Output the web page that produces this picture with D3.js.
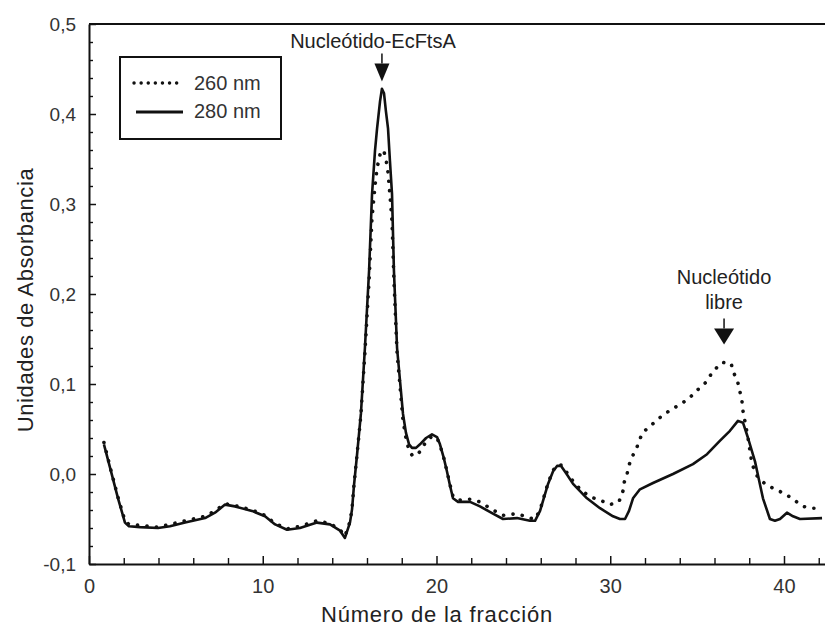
<!DOCTYPE html>
<html>
<head>
<meta charset="utf-8">
<script src="https://cdn.jsdelivr.net/npm/d3@7"></script>
<style>
  html, body { margin: 0; padding: 0; background: #fff; }
  svg { display: block; }
  text { font-family: "Liberation Sans", Arial, Helvetica, sans-serif; }
</style>
</head>
<body>
<svg id="chart" width="825" height="630"></svg>
<script>
// Elution profile: fraction number vs. absorbance at two wavelengths
const seriesNames = ["260 nm", "280 nm"];

const fraction280 = [0.86, 1.21, 1.67, 2.07, 2.30, 2.94, 3.97, 4.66, 5.53, 6.68, 7.25, 7.83, 8.40, 9.38,
  10.13, 10.71, 11.40, 12.14, 13.12, 13.87, 14.45, 14.73, 15.02, 15.14, 15.25, 15.42, 15.65, 15.88,
  16.12, 16.29, 16.46, 16.58, 16.75, 16.86, 16.98, 17.09, 17.21, 17.32, 17.44, 17.55, 17.73, 18.07,
  18.24, 18.42, 18.59, 18.82, 19.05, 19.40, 19.74, 20.03, 20.20, 20.43, 20.60, 20.78, 20.95, 21.24,
  21.93, 22.50, 23.25, 23.83, 24.63, 25.38, 25.67, 25.96, 26.42, 26.71, 26.94, 27.17, 27.45, 27.86,
  28.66, 29.41, 30.16, 30.56, 30.85, 31.08, 31.31, 31.71, 32.46, 33.61, 34.76, 35.57, 36.32, 36.89,
  37.35, 37.64, 37.93, 38.33, 38.79, 39.19, 39.48, 39.77, 40.17, 40.52, 40.92, 42.19];
const abs280 = [0.033, 0.007, -0.027, -0.054, -0.058, -0.059, -0.060, -0.058, -0.054, -0.049, -0.043, -0.034, -0.036, -0.041,
  -0.047, -0.056, -0.062, -0.060, -0.054, -0.056, -0.063, -0.071, -0.054, -0.039, -0.013, 0.020, 0.067, 0.140,
  0.226, 0.311, 0.359, 0.384, 0.414, 0.428, 0.423, 0.403, 0.384, 0.348, 0.311, 0.226, 0.140, 0.067,
  0.046, 0.033, 0.029, 0.029, 0.033, 0.040, 0.044, 0.041, 0.033, 0.017, 0.003, -0.013, -0.027, -0.031,
  -0.031, -0.036, -0.044, -0.050, -0.049, -0.052, -0.052, -0.041, -0.011, 0.003, 0.009, 0.009, 0.001, -0.011,
  -0.027, -0.038, -0.047, -0.050, -0.050, -0.041, -0.027, -0.017, -0.010, 0.000, 0.011, 0.022, 0.037, 0.048,
  0.059, 0.057, 0.040, 0.014, -0.027, -0.050, -0.052, -0.050, -0.043, -0.047, -0.050, -0.049];

const fraction260 = [0.86, 1.21, 1.67, 2.07, 2.30, 2.94, 3.97, 4.66, 5.53, 6.68, 7.25, 7.83, 8.40, 9.38,
  10.13, 10.71, 11.40, 12.14, 13.12, 13.87, 14.45, 14.73, 15.02, 15.14, 15.25, 15.42, 15.65, 15.88,
  16.12, 16.29, 16.46, 16.58, 16.75, 16.86, 16.98, 17.09, 17.21, 17.32, 17.44, 17.55, 17.73, 18.07,
  18.24, 18.42, 18.59, 18.82, 19.05, 19.40, 19.74, 20.03, 20.20, 20.43, 20.60, 20.78, 20.95, 21.24,
  21.93, 22.50, 23.25, 23.83, 24.63, 25.38, 25.67, 25.96, 26.42, 26.71, 26.94, 27.17, 27.45, 27.86,
  28.37, 28.95, 29.52, 29.98, 30.50, 30.73, 30.79, 30.97, 31.08, 31.31, 31.54, 31.85, 32.23, 32.81,
  33.38, 33.90, 34.48, 35.00, 35.51, 35.91, 36.43, 36.95, 37.12, 37.35, 37.47, 37.58, 37.64, 37.93,
  38.16, 38.45, 38.91, 39.48, 40.06, 40.52, 41.09, 41.61, 42.07];
const abs260 = [0.035, 0.008, -0.026, -0.052, -0.056, -0.057, -0.059, -0.056, -0.052, -0.047, -0.041, -0.033, -0.035, -0.040,
  -0.046, -0.055, -0.061, -0.058, -0.052, -0.055, -0.062, -0.069, -0.053, -0.038, -0.012, 0.020, 0.066, 0.135,
  0.215, 0.285, 0.320, 0.340, 0.355, 0.360, 0.358, 0.350, 0.335, 0.310, 0.280, 0.215, 0.135, 0.060,
  0.040, 0.026, 0.021, 0.020, 0.025, 0.036, 0.042, 0.040, 0.032, 0.017, 0.003, -0.012, -0.025, -0.029,
  -0.028, -0.031, -0.040, -0.046, -0.044, -0.049, -0.050, -0.040, -0.010, 0.004, 0.010, 0.010, 0.003, -0.008,
  -0.019, -0.026, -0.030, -0.034, -0.031, -0.019, -0.010, 0.000, 0.010, 0.021, 0.030, 0.046, 0.052, 0.062,
  0.070, 0.076, 0.083, 0.093, 0.102, 0.114, 0.124, 0.123, 0.112, 0.101, 0.091, 0.081, 0.070, 0.040,
  0.011, -0.002, -0.011, -0.017, -0.022, -0.028, -0.036, -0.038, -0.038];

const xTickValues = [0, 10, 20, 30, 40];
const xMinorTicks = [2, 4, 6, 8, 12, 14, 16, 18, 22, 24, 26, 28, 32, 34, 36, 38, 42];
const yTickValues = [-0.1, 0.0, 0.1, 0.2, 0.3, 0.4, 0.5];
const yMinorTicks = [-0.08, -0.06, -0.04, -0.02, 0.02, 0.04, 0.06, 0.08, 0.12, 0.14, 0.16, 0.18,
  0.22, 0.24, 0.26, 0.28, 0.32, 0.34, 0.36, 0.38, 0.42, 0.44, 0.46, 0.48];

const xTitle = "Número de la fracción";
const yTitle = "Unidades de Absorbancia";

// Arrow annotations: text lines and the point the arrow tip marks
const boundLabel = ["Nucleótido-EcFtsA"];
const boundTip = [16.86, 0.436];
const freeLabel = ["Nucleótido", "libre"];
const freeTip = [36.55, 0.144];

const svg = d3.select("#chart");
const x = d3.scaleLinear().domain([0, 42.36]).range([89, 825]);
const y = d3.scaleLinear().domain([-0.1, 0.5]).range([564, 24]);

const ink = "#111";
const labelInk = "#333";

// Minor ticks
svg.append("g").attr("transform", `translate(0,${y(-0.1)})`)
  .call(d3.axisBottom(x).tickValues(xMinorTicks).tickSize(-6).tickSizeOuter(0).tickFormat(""))
  .call(g => g.select(".domain").remove())
  .call(g => g.selectAll("line").attr("stroke", ink).attr("stroke-width", 1.4));
svg.append("g").attr("transform", `translate(${x(0)},0)`)
  .call(d3.axisLeft(y).tickValues(yMinorTicks).tickSize(-4).tickSizeOuter(0).tickFormat(""))
  .call(g => g.select(".domain").remove())
  .call(g => g.selectAll("line").attr("stroke", ink).attr("stroke-width", 1.4));

// Major axes
const fmt = v => v.toFixed(1).replace(".", ",");
svg.append("g").attr("transform", `translate(0,${y(-0.1)})`)
  .call(d3.axisBottom(x).tickValues(xTickValues).tickSize(-8).tickSizeOuter(0).tickPadding(15).tickFormat(d3.format("d")))
  .call(g => g.select(".domain").attr("stroke", ink).attr("stroke-width", 2))
  .call(g => g.selectAll("line").attr("stroke", ink).attr("stroke-width", 1.5))
  .call(g => g.selectAll("text").attr("font-size", 20).attr("fill", labelInk)
    .attr("font-family", "'Liberation Sans', Arial, sans-serif"));
svg.append("g").attr("transform", `translate(${x(0)},0)`)
  .call(d3.axisLeft(y).tickValues(yTickValues).tickSize(-7).tickSizeOuter(0).tickPadding(13).tickFormat(fmt))
  .call(g => g.select(".domain").attr("stroke", ink).attr("stroke-width", 2))
  .call(g => g.selectAll("line").attr("stroke", ink).attr("stroke-width", 1.5))
  .call(g => g.selectAll("text").attr("font-size", 19).attr("fill", labelInk)
    .attr("font-family", "'Liberation Sans', Arial, sans-serif"));

// Top frame line
svg.append("line")
  .attr("x1", x(0)).attr("x2", x(42.36)).attr("y1", y(0.5)).attr("y2", y(0.5))
  .attr("stroke", ink).attr("stroke-width", 2);

// Axis titles
svg.append("text")
  .attr("x", 437).attr("y", 622).attr("text-anchor", "middle")
  .attr("font-size", 22).attr("letter-spacing", 0.8).attr("fill", "#222")
  .text(xTitle);
svg.append("text")
  .attr("transform", `translate(33,${300}) rotate(-90)`)
  .attr("text-anchor", "middle")
  .attr("font-size", 22).attr("letter-spacing", 0.6).attr("fill", "#222")
  .text(yTitle);

// Curves
const line = d3.line().x(d => x(d[0])).y(d => y(d[1]));
const pts260 = fraction260.map((f, i) => [f, abs260[i]]);
const pts280 = fraction280.map((f, i) => [f, abs280[i]]);

svg.append("path").datum(pts260)
  .attr("d", line).attr("fill", "none")
  .attr("stroke", ink).attr("stroke-width", 3.6)
  .attr("stroke-linecap", "round").attr("stroke-dasharray", "0.1 9.4");

svg.append("path").datum(pts280)
  .attr("d", line).attr("fill", "none")
  .attr("stroke", ink).attr("stroke-width", 2.6)
  .attr("stroke-linejoin", "round");

// Legend
const lg = svg.append("g");
lg.append("rect").attr("x", 120).attr("y", 57).attr("width", 161).attr("height", 82)
  .attr("fill", "#fff").attr("stroke", ink).attr("stroke-width", 2);
lg.append("line").attr("x1", 134).attr("x2", 183).attr("y1", 83).attr("y2", 83)
  .attr("stroke", ink).attr("stroke-width", 3.4).attr("stroke-linecap", "round")
  .attr("stroke-dasharray", "0.1 7");
lg.append("line").attr("x1", 136).attr("x2", 183).attr("y1", 112).attr("y2", 112)
  .attr("stroke", ink).attr("stroke-width", 2.8);
lg.selectAll("text.lab").data(seriesNames).join("text")
  .attr("class", "lab")
  .attr("x", 194).attr("y", (d, i) => 90 + i * 28)
  .attr("font-size", 20).attr("fill", labelInk)
  .text(d => d);

// Arrow annotations
function arrow(tip, w, h, stem) {
  const tx = x(tip[0]), ty = y(tip[1]);
  svg.append("line").attr("x1", tx).attr("x2", tx).attr("y1", ty - h - stem).attr("y2", ty - h)
    .attr("stroke", ink).attr("stroke-width", 1.5);
  svg.append("path")
    .attr("d", `M${tx - w / 2},${ty - h}L${tx + w / 2},${ty - h}L${tx},${ty}Z`)
    .attr("fill", ink);
  return [tx, ty];
}
const [bx, by] = arrow(boundTip, 15, 18, 10);
svg.append("text").attr("x", bx - 9).attr("y", by - 34).attr("text-anchor", "middle")
  .attr("font-size", 20).attr("fill", "#222").text(boundLabel[0]);

const [fx, fy] = arrow(freeTip, 20, 16, 10);
svg.selectAll("text.free").data(freeLabel).join("text")
  .attr("class", "free")
  .attr("x", fx).attr("y", (d, i) => fy - 60 + i * 25).attr("text-anchor", "middle")
  .attr("font-size", 20).attr("fill", "#222").text(d => d);
</script>
</body>
</html>
